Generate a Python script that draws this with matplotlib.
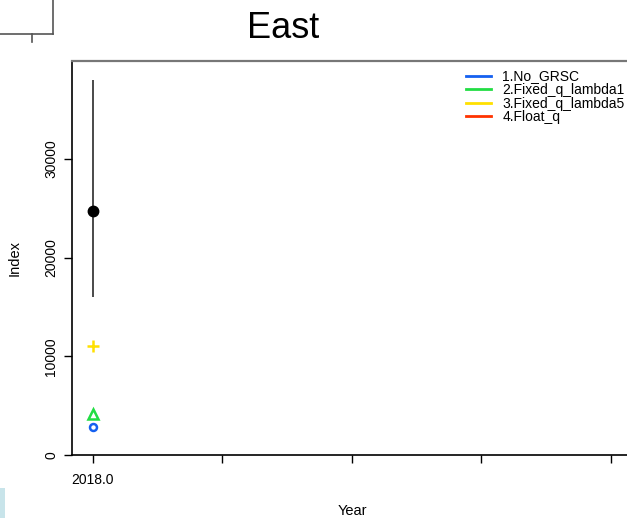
import matplotlib
matplotlib.use('Agg')
import matplotlib.pyplot as plt
from matplotlib.lines import Line2D
from matplotlib.patches import Rectangle

plt.rcParams['font.family'] = ['Liberation Sans', 'DejaVu Sans']

# data
year = 2018.0
est = 24700          # black point (Float_q estimate)
ci_lo, ci_hi = 16000, 38000
no_grsc = 2800
fixed_l1 = 4150
fixed_l5 = 11000

series_names = ['1.No_GRSC', '2.Fixed_q_lambda1', '3.Fixed_q_lambda5', '4.Float_q']
series_cols = ['#1560F0', '#22DD44', '#FFE000', '#FF3300']

xticks = [2018.0, 2018.5, 2019.0, 2019.5, 2020.0]
xticklabels = ['2018.0', '', '', '', '']
yticks = [0, 10000, 20000, 30000]

W, H = 627, 518
fig = plt.figure(figsize=(W / 100, H / 100), dpi=100)
ax = fig.add_axes([72 / W, (H - 455) / H, (640 - 72) / W, (455 - 61) / H])

ax.plot([year, year], [ci_lo, ci_hi], color='#3a3a3a', lw=1.3, solid_capstyle='butt')
ax.plot(year, est, 'o', color='black', ms=7.5)
ax.plot(year, fixed_l5, '+', color=series_cols[2], ms=9, mew=1.8)
ax.plot(year, fixed_l1, '^', mfc='none', mec=series_cols[1], ms=6.5, mew=1.8)
ax.plot(year, no_grsc, 'o', mfc='none', mec=series_cols[0], ms=5, mew=1.8)

ax.set_xlim(2017.919, 2020.112)
ax.set_ylim(0, 39900)
ax.set_xticks(xticks)
ax.set_xticklabels(xticklabels)
ax.set_yticks(yticks)
ax.set_yticklabels([str(v) for v in yticks], rotation=90, va='center')
ax.tick_params(axis='both', direction='out', length=6, width=1, labelsize=10, color='black')
ax.tick_params(axis='x', pad=7)
ax.tick_params(axis='y', pad=4)
for s in ['left', 'bottom']:
    ax.spines[s].set_color('black')
    ax.spines[s].set_linewidth(1.2)
ax.spines['top'].set_color('#777777')
ax.spines['top'].set_linewidth(1.6)
ax.spines['right'].set_visible(False)

ax.set_xlabel('Year', fontsize=10.5, va='center')
ax.xaxis.set_label_coords((352 - 72) / (640 - 72), -(511 - 455) / (455 - 61))
ax.set_ylabel('Index', fontsize=10.5, va='center')
ax.yaxis.set_label_coords(-(72 - 15) / (640 - 72), 0.5)

handles = [Line2D([], [], color=c, lw=2) for c in series_cols]
ax.legend(handles, series_names, loc='upper left', bbox_to_anchor=((453 - 72) / (640 - 72), 1.0 + 4 / 394),
          frameon=False, fontsize=10, handlelength=1.85, handletextpad=0.8, labelspacing=-0.03,
          borderaxespad=0.5)

fig.text(283 / W, 1 - 28 / H, 'East', fontsize=26, ha='center', va='center')

# cropping leftovers at the corners
fig.add_artist(Line2D([0, 53 / W], [1 - 34 / H, 1 - 34 / H], color='#555555', lw=1.2))
fig.add_artist(Line2D([53 / W, 53 / W], [1 - 34 / H, 1], color='#555555', lw=1.2))
fig.add_artist(Line2D([32 / W, 32 / W], [1 - 34 / H, 1 - 42 / H], color='#555555', lw=1.2))
fig.add_artist(Rectangle((0, 0), 5 / W, 30 / H, transform=fig.transFigure, color='#C8E4EA', lw=0))

plt.savefig('out.png', dpi=100)
